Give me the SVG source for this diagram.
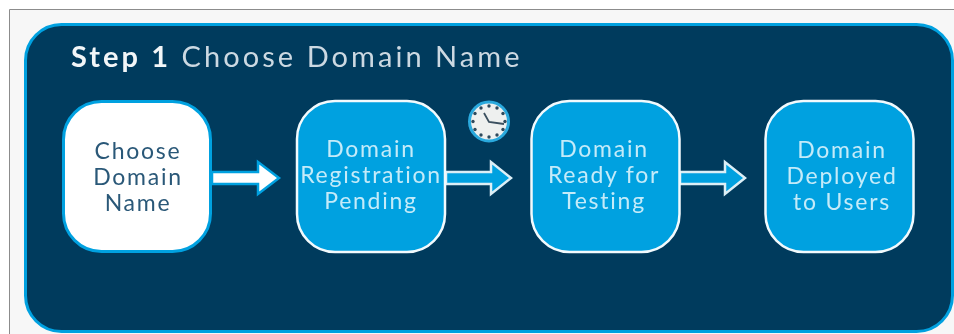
<svg xmlns="http://www.w3.org/2000/svg" width="954" height="334" viewBox="0 0 954 334">
<style>
.t{font-family:"Lato","Open Sans",sans-serif;text-anchor:middle;font-size:23px;font-weight:400;letter-spacing:1.750px;fill:#c4ebf9}
.d{fill:#2a5878}
.n{fill:#00a1e0;stroke:#f2fafd;stroke-width:2.5}
.a{fill:#00a1e0;stroke:#dceff6;stroke-width:2.5}
.h{font-family:"Lato","Open Sans",sans-serif;font-size:29px;font-weight:400;letter-spacing:3.050px;fill:#ccd9e2}
.s{font-weight:700;fill:#f2f6f8}
</style>
<defs><filter id="b" x="-5%" y="-5%" width="110%" height="110%"><feGaussianBlur stdDeviation="0.5"/></filter></defs>
<rect width="954" height="334" fill="#ffffff"/>
<rect x="10" y="10" width="944" height="324" fill="#f7f7f7"/>
<path d="M9.500 334V9.500H954" fill="none" stroke="#8c8c8c" stroke-width="1"/>
<g filter="url(#b)">
<g id="panel">
<rect x="25.500" y="24.500" width="927" height="307" rx="36" fill="#003a5d" stroke="#00a1e0" stroke-width="3"/>
<text class="h" x="71" y="67"><tspan class="s">Step 1</tspan> Choose Domain Name</text>
</g>
<g id="connectors">
<path d="M212 172H258V162L279 178L258 194V184H212Z" fill="#ffffff" stroke="#00a1e0" stroke-width="2.500"/>
<path class="a" d="M446 172H491V162L511 178L491 194V184H446Z"/>
<path class="a" d="M680 172H725V162L745 178L725 194V184H680Z"/>
</g>
<g id="node1">
<rect x="63.500" y="101.500" width="147" height="150" rx="38" fill="#ffffff" stroke="#00a1e0" stroke-width="3"/>
<text class="t d" x="138" y="159">Choose</text>
<text class="t d" x="138" y="185">Domain</text>
<text class="t d" x="138" y="211">Name</text>
</g>
<g id="node2">
<rect class="n" x="297" y="101" width="148" height="151" rx="38"/>
<text class="t" x="371" y="157">Domain</text>
<text class="t" x="371" y="183">Registration</text>
<text class="t" x="371" y="209">Pending</text>
</g>
<g id="node3">
<rect class="n" x="531.500" y="101" width="148" height="151" rx="38"/>
<text class="t" x="604" y="157">Domain</text>
<text class="t" x="604" y="183">Ready for</text>
<text class="t" x="604" y="209">Testing</text>
</g>
<g id="node4">
<rect class="n" x="765.500" y="101" width="148" height="151" rx="38"/>
<text class="t" x="842" y="158">Domain</text>
<text class="t" x="842" y="184">Deployed</text>
<text class="t" x="842" y="210">to Users</text>
</g>
<g id="clock">
<circle cx="489" cy="121.500" r="19.500" fill="#eef0ef" stroke="#29a9dd" stroke-width="3"/>
<g fill="#2f4a5c">
<circle cx="489" cy="106" r="1.700"/><circle cx="497" cy="108" r="1.700"/><circle cx="503" cy="113.500" r="1.700"/><circle cx="505" cy="121.500" r="1.700"/><circle cx="503" cy="129.500" r="1.700"/><circle cx="497" cy="135" r="1.700"/><circle cx="489" cy="137" r="1.700"/><circle cx="481" cy="135" r="1.700"/><circle cx="475" cy="129.500" r="1.700"/><circle cx="473" cy="121.500" r="1.700"/><circle cx="475" cy="113.500" r="1.700"/><circle cx="481" cy="108" r="1.700"/>
</g>
<path d="M484 113L489 122L504 124" fill="none" stroke="#3a4f5e" stroke-width="1.800"/>
</g>
</g>
</svg>
